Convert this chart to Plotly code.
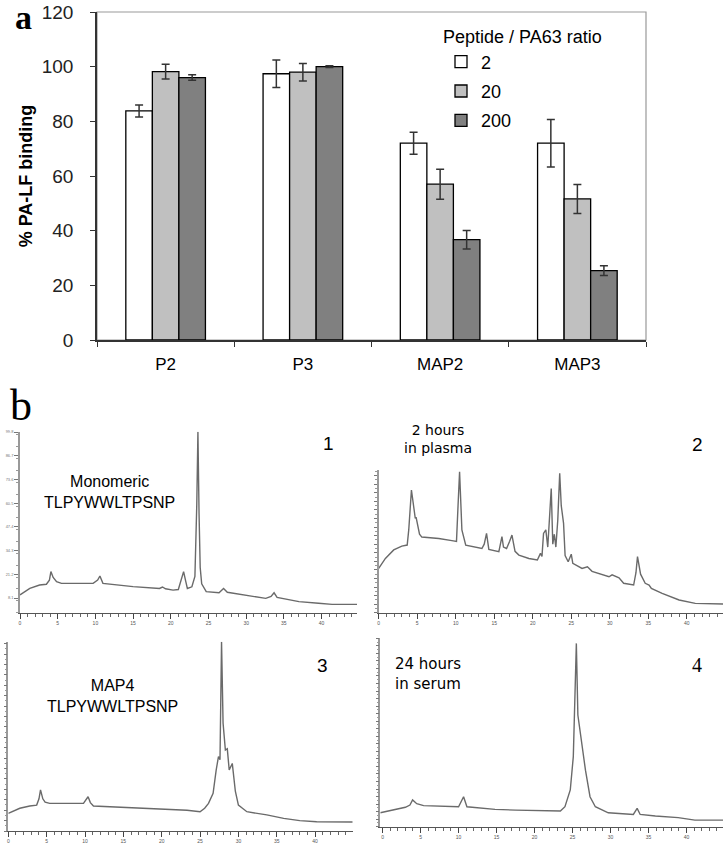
import plotly.graph_objects as go

W, H = 723, 849

# ---------------- Panel a: bar chart data ----------------
categories = ["P2", "P3", "MAP2", "MAP3"]
ratio_labels = ["2", "20", "200"]
binding_r2 = [83.8, 97.4, 72.0, 72.0]
binding_r20 = [98.2, 98.0, 57.0, 51.6]
binding_r200 = [96.0, 100.0, 36.7, 25.4]
err_r2 = [2.2, 5.0, 4.0, 8.7]
err_r20 = [2.7, 3.2, 5.5, 5.3]
err_r200 = [1.0, 0.3, 3.4, 1.8]
y_ticks = [0, 20, 40, 60, 80, 100, 120]

# ---------------- Panel b: chromatograms (time, intensity % of panel) ----------------
mono_t = [0, 1.3, 2.6, 3.5, 3.9, 4.1, 4.4, 4.85, 5.5, 9.7, 10.3, 10.6, 11.0, 15.0, 18.5, 18.9, 19.3,
          20.3, 21.0, 21.4, 21.7, 22.0, 22.2, 22.8, 23.2, 23.45, 23.6, 23.75, 23.9, 24.1, 24.7, 26.4,
          26.8, 27.0, 27.5, 32.6, 33.3, 33.7, 34.1, 37.0, 39.6, 41.4, 44.7]
mono_i = [9.8, 13.4, 15.3, 15.7, 18, 22.7, 19.5, 17.1, 16.2, 16.2, 18, 20.3, 16.2, 14.4, 13.4, 14.2, 13.2,
          12.5, 12.8, 18, 22.7, 17, 13.4, 14.3, 20, 60, 100, 55, 25, 16, 11.6, 11.0,
          12.5, 13.4, 11.3, 7.9, 9, 11.0, 8.5, 6.1, 5.2, 4.6, 4.6]

plasma_t = [0, 0.87, 1.95, 3.0, 3.7, 3.9, 4.25, 4.55, 4.75, 4.85, 5.0, 5.3, 5.6, 7.8, 9.5, 10.1, 10.3,
            10.5, 10.8, 11.3, 13.4, 13.7, 14.0, 14.3, 15.6, 15.8, 16.0, 16.2, 16.6, 17.0, 17.3, 17.7,
            18.2, 19.5, 20.6, 21.0, 21.2, 21.4, 21.7, 21.95, 22.15, 22.4, 22.6, 22.8, 23.0, 23.25, 23.5,
            23.7, 24.0, 24.2, 24.6, 25.0, 25.2, 26.4, 27.1, 27.7, 29.9, 30.3, 31.2, 31.8, 33.1, 33.4,
            33.6, 34.0, 34.6, 35.1, 35.4, 36.8, 39.0, 41.1, 44.7]
plasma_i = [31, 38, 44, 46.7, 47.4, 58, 86, 75, 66, 67, 62, 55, 53, 52, 50.5, 50, 75,
            98.8, 58, 47.4, 45, 48, 55.6, 44.4, 42.8, 48, 53.3, 46, 45, 50, 54.4, 43,
            40.4, 38, 36.9, 41.6, 39.5, 55.6, 58, 46, 61, 87, 48, 55, 46, 65, 97.7,
            75, 62.6, 40, 35.7, 41, 34.6, 31, 32.2, 29, 25.2, 26.5, 24.5, 20.6, 19.4, 28,
            39.3, 27, 20.6, 19.4, 17, 13.6, 8.9, 6.5, 6.1]

map4_t = [0, 1.5, 2.8, 3.7, 4.0, 4.2, 4.5, 4.8, 5.4, 9.8, 10.4, 10.7, 11.1, 16.3, 20.7, 23.3, 25.0,
          25.6, 26.1, 26.7, 27.1, 27.4, 27.6, 27.8, 28.0, 28.3, 28.55, 28.8, 29.2, 29.6, 30.0, 31.1,
          33.7, 35.9, 38.0, 40.2, 44.9]
map4_i = [9.3, 12.0, 13.2, 13.7, 17, 21.7, 17, 15.2, 14.6, 14.6, 18.1, 15, 13.2, 12.3, 11.4, 11.0, 10.2,
          12, 14.6, 19.9, 32.2, 39.3, 37.6, 100, 57, 42.8, 43.5, 32.2, 35.7, 21, 13.7, 10.2,
          8.5, 6.7, 5.5, 4.9, 4.75]

serum_t = [-0.3, 1.2, 3.0, 3.6, 3.95, 4.5, 5.4, 10.0, 10.66, 11.1, 14.8, 17.5, 20.1, 23.4, 24.0, 24.7,
           25.1, 25.35, 25.5, 25.7, 26.2, 26.4, 26.7, 27.3, 28.0, 29.7, 33.0, 33.5, 33.9, 35.9, 38.9,
           41.1, 44.8]
serum_i = [7.4, 8.8, 10.3, 11.5, 14.2, 12.2, 11.2, 10.6, 15.9, 10.6, 9.2, 8.8, 8.5, 8.3, 10.6, 19.5,
           37.2, 70, 97.3, 59.3, 44.2, 37.2, 30, 15.9, 10.6, 7.4, 6.5, 9.7, 6.5, 5.7, 4.8,
           3.5, 3.5]


def px(x):
    return x / W


def py(y):
    return 1 - y / H


FONT = "Arial, Liberation Sans, sans-serif"
fig = go.Figure()

bar_colors = ["#ffffff", "#c0c0c0", "#808080"]
for lab, vals, errs, col in zip(ratio_labels, [binding_r2, binding_r20, binding_r200],
                                [err_r2, err_r20, err_r200], bar_colors):
    fig.add_trace(go.Bar(
        x=categories, y=vals, name=lab, legendgroup=lab,
        marker=dict(color=col, line=dict(color="#000000", width=1.3)),
        error_y=dict(type="data", array=errs, visible=True, color="#333333",
                     thickness=1.5, width=4),
        xaxis="x", yaxis="y",
    ))

chrom = [(mono_t, mono_i, "x2", "y2"), (plasma_t, plasma_i, "x3", "y3"),
         (map4_t, map4_i, "x4", "y4"), (serum_t, serum_i, "x5", "y5")]
for t, i, xa, ya in chrom:
    fig.add_trace(go.Scatter(x=t, y=i, mode="lines", showlegend=False,
                             line=dict(color="#6a6a6a", width=1.4),
                             xaxis=xa, yaxis=ya))

layout = dict(
    width=W, height=H, margin=dict(l=0, r=0, t=0, b=0, pad=0, autoexpand=False),
    paper_bgcolor="white", plot_bgcolor="white",
    font=dict(family=FONT, color="#000000"),
    barmode="group", bargap=0.42, bargroupgap=0,
    showlegend=True,
    legend=dict(x=px(441), y=py(20), xanchor="left", yanchor="top",
                title=dict(text="Peptide / PA63 ratio", font=dict(size=18, family=FONT)),
                font=dict(size=18, family=FONT), tracegroupgap=3,
                bgcolor="rgba(0,0,0,0)", itemwidth=30),
    xaxis=dict(domain=[px(97), px(646)], anchor="y", type="category", automargin=False,
               tickson="boundaries", ticks="outside", ticklen=5, tickcolor="#333",
               showline=True, linecolor="#333", linewidth=1.5, showgrid=False,
               ticklabelstandoff=8,
               tickfont=dict(size=17, family=FONT)),
    yaxis=dict(domain=[py(340), py(12)], anchor="x", range=[0, 120], tickvals=y_ticks,
               automargin=False,
               ticks="outside", ticklen=5, tickcolor="#333", showline=True, linecolor="#333",
               linewidth=1.5, showgrid=False, zeroline=False, ticklabelstandoff=13,
               tickfont=dict(size=19, family=FONT, color="#222"),
               title=dict(text="<b>% PA-LF binding</b>", font=dict(size=18, family=FONT),
                          standoff=4)),
)

chrom_dom = {
    2: ([px(20), px(357)], [py(612.7), py(431.7)], [0, 44.7]),
    3: ([px(378.7), 1.0], [py(612.7), py(470)], [0, 44.7]),
    4: ([px(8.3), px(352.7)], [py(831), py(641.7)], [0, 44.9]),
    5: ([px(380.3), 1.0], [py(826.7), py(638.3)], [-0.3, 44.8]),
}
ydt = {2: 13.1, 3: 6, 4: 5.5, 5: 4}
for k, (xd, yd, xr) in chrom_dom.items():
    layout[f"xaxis{k}"] = dict(domain=xd, anchor=f"y{k}", range=xr, tick0=0, dtick=5,
                               automargin=False,
                               ticks="outside", ticklen=5, tickcolor="#444",
                               showline=True, linecolor="#555", linewidth=1.2,
                               showgrid=False, zeroline=False,
                               tickfont=dict(size=5, color="#555"),
                               minor=dict(ticks="outside", ticklen=3, dtick=1, tickcolor="#666"))
    layout[f"yaxis{k}"] = dict(domain=yd, anchor=f"x{k}", range=[0, 100],
                               automargin=False,
                               tick0=8.1 if k == 2 else 0, dtick=ydt[k],
                               ticks="outside", ticklen=4 if k == 2 else 3, tickcolor="#777",
                               showline=True, linecolor="#999", linewidth=1.5,
                               showgrid=False, zeroline=False,
                               showticklabels=(k == 2),
                               tickfont=dict(size=4, color="#777"),
                               minor=dict(ticks="outside", ticklen=2, dtick=ydt[k] / 2,
                                          tickcolor="#999"))

fig.update_layout(**layout)

# frame around bar chart
fig.add_shape(type="rect", xref="paper", yref="paper", x0=px(97), x1=px(646),
              y0=py(340), y1=py(12), line=dict(color="#999999", width=1.2), layer="below")

SERIF = "Times New Roman, Liberation Serif, serif"
VERD = "Verdana, DejaVu Sans, sans-serif"
ann = [
    ("<b>a</b>", 23, 17, 34, SERIF, "center", "center"),
    ("b", 21, 405, 44, SERIF, "center", "center"),
    ("Monomeric<br>TLPYWWLTPSNP", 109, 492, 16, FONT, "center", "center"),
    ("1", 328, 443, 19, FONT, "center", "center"),
    ("2 hours<br>in plasma", 438, 439, 14, VERD, "center", "center"),
    ("2", 697, 445, 19, FONT, "center", "center"),
    ("MAP4<br>TLPYWWLTPSNP", 112, 696, 16, FONT, "center", "center"),
    ("3", 322, 665, 19, FONT, "center", "center"),
    ("24 hours<br>in serum", 393, 674, 15, VERD, "left", "left"),
    ("4", 697, 665, 20, SERIF, "center", "center"),
]
for text, x, y, size, fam, anchor, align in ann:
    fig.add_annotation(text=text, x=px(x), y=py(y), xref="paper", yref="paper",
                       xanchor=anchor, yanchor="middle", showarrow=False, align=align,
                       font=dict(size=size, family=fam, color="#000000"))

fig.write_html("out.html", config={"displayModeBar": False},
               post_script="document.body.style.margin='0';document.body.style.padding='0';")
